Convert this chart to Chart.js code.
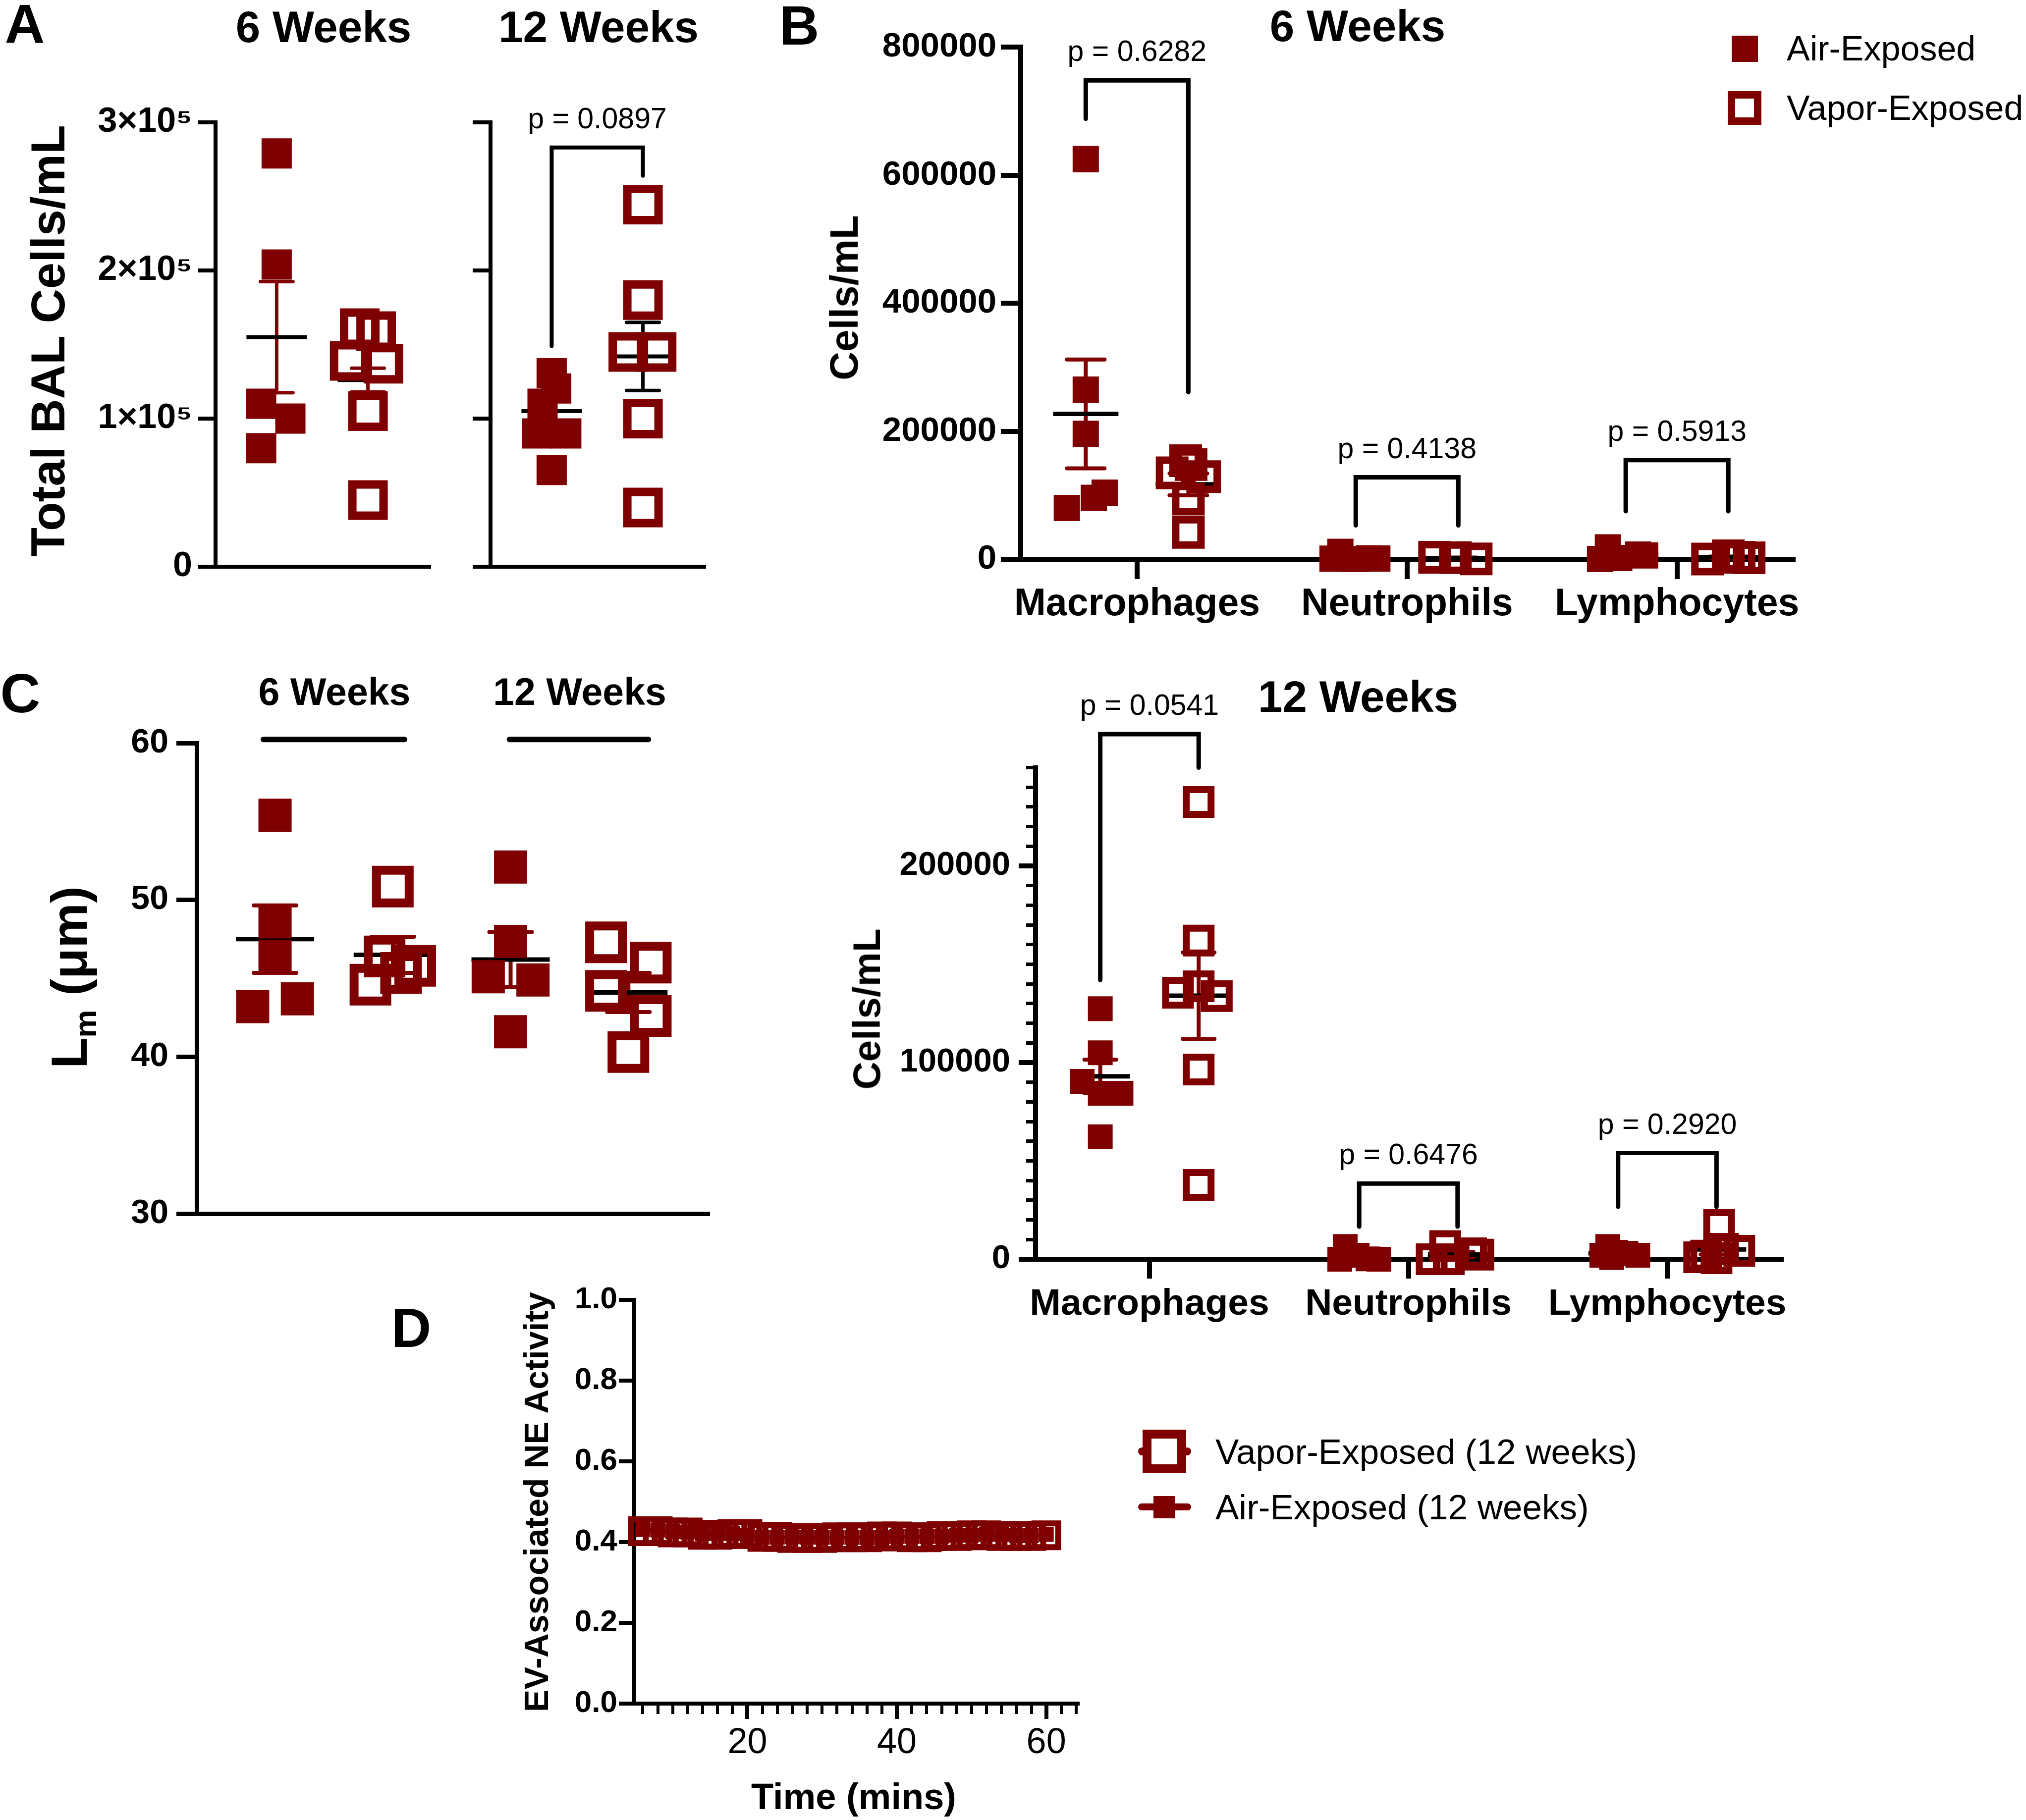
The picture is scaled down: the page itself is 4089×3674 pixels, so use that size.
<!DOCTYPE html>
<html>
<head>
<meta charset="utf-8">
<script src="https://cdn.jsdelivr.net/npm/chart.js@4.4.1/dist/chart.umd.min.js"></script>
<style>
  html, body { margin: 0; padding: 0; background: #fff; }
  #page { position: relative; width: 4089px; height: 3674px; overflow: hidden; background: #fff;
          font-family: 'Liberation Sans', Arial, Helvetica, sans-serif; }
  #page canvas { position: absolute; }
  .t { position: absolute; white-space: nowrap; line-height: 1; color: #000; }
  .t .sub { font-size: 0.62em; vertical-align: -0.3em; line-height: 0; }
  .box { position: absolute; box-sizing: border-box; }
</style>
</head>
<body>
<div id="page">
  <canvas id="a6"  width="750"  height="1050" style="left:150px;top:150px"></canvas>
  <canvas id="a12" width="560"  height="1050" style="left:900px;top:150px"></canvas>
  <canvas id="b6"  width="2040" height="1300" style="left:1640px;top:0px"></canvas>
  <canvas id="c"   width="1300" height="1070" style="left:200px;top:1440px"></canvas>
  <canvas id="b12" width="2000" height="1320" style="left:1700px;top:1380px"></canvas>
  <canvas id="d"   width="1100" height="1000" style="left:1150px;top:2580px"></canvas>
</div>
<script>
var RED = '#7f0000';
Chart.defaults.font.family = "'Liberation Sans', Arial, Helvetica, sans-serif";
Chart.defaults.color = '#000';

// ---------- A: total BAL cells ----------
var aTickValues = [0, 100000, 200000, 300000];
var aTickLabels = ['0', '1×10⁵', '2×10⁵', '3×10⁵'];
var aAir6 = [279000, 204000, 110000, 100000, 80000];
var aAir6Jit = [0, 0, -0.17, 0.15, -0.17];
var aVap6 = [161000, 159000, 139000, 137000, 105000, 45000];
var aVap6Jit = [-0.09, 0.09, -0.2, 0.17, 0, 0];
var aAir12 = [130600, 120300, 110000, 90000, 90000, 65300];
var aAir12Jit = [0, 0.05, -0.1, -0.16, 0.16, 0];
var aVap12 = [244500, 180000, 145000, 145000, 100000, 40000];
var aVap12Jit = [0, 0, -0.16, 0.15, 0, 0];
var aMean6 = [155000, 126000];
var aSem6 = [37500, 8000];
var aMean12 = [105000, 142000];
var aSem12 = [9000, 23000];
var aP12 = 'p = 0.0897';
var aBracket12 = [283000, 149000, 264000];   // top, left end, right end

// ---------- B: cell types ----------
var cellTypes = ['Macrophages', 'Neutrophils', 'Lymphocytes'];
var b6TickValues = [0, 200000, 400000, 600000, 800000];
var b6TickLabels = ['0', '200000', '400000', '600000', '800000'];
var b6AirMac = [625000, 265000, 196000, 104000, 96000, 80000];
var b6AirMacJit = [0, 0, 0, 0.07, 0.03, -0.07];
var b6VapMac = [154000, 148000, 135000, 129000, 94000, 42000];
var b6VapMacJit = [-0.01, 0.01, -0.06, 0.06, 0, 0];
var b6AirNeu = [11600, 1000, 1500, 1200, 300];
var b6AirNeuJit = [-0.057, -0.086, 0.05, 0.08, 0];
var b6VapNeu = [3000, 2500, 500];
var b6VapNeuJit = [-0.088, -0.011, 0.066];
var b6AirLym = [18600, 300, 7300, 6000, 2000];
var b6AirLymJit = [-0.066, -0.095, 0.046, 0.072, -0.024];
var b6VapLym = [5400, 2300, 300, 3000];
var b6VapLymJit = [0, 0.077, -0.077, 0.04];
var b6AirMean = [227000, 3500, 7000];
var b6AirSem = [85000, 2000, 3200];
var b6VapMean = [117000, 2000, 3200];
var b6VapSem = [17000, 800, 1000];
var b6P = ['p = 0.6282', 'p = 0.4138', 'p = 0.5913'];
var b6BracketTop = [748000, 128000, 155000];
var b6BracketLeft = [688000, 53000, 75000];
var b6BracketRight = [261000, 53000, 75000];

var b12TickValues = [0, 100000, 200000];
var b12TickLabels = ['0', '100000', '200000'];
var b12AirMac = [127400, 105000, 90400, 84400, 84400, 62300];
var b12AirMacJit = [0, 0, -0.07, 0, 0.08, 0];
var b12VapMac = [232500, 162000, 138800, 135500, 133800, 96500, 37800];
var b12VapMacJit = [0, 0, 0, -0.08, 0.07, 0, 0];
var b12AirNeu = [6500, 2000, 200, 0, 0];
var b12AirNeuJit = [-0.054, -0.008, 0.034, 0.076, -0.075];
var b12VapNeu = [6700, 3000, 2300, 0, 0];
var b12VapNeuJit = [-0.048, 0.052, 0.08, -0.034, -0.1];
var b12AirLym = [6500, 3500, 3000, 2000, 2000, 800];
var b12AirLymJit = [-0.04, -0.01, 0.03, 0.076, -0.063, -0.025];
var b12VapLym = [17400, 5300, 4300, 1800, 1000, 500];
var b12VapLymJit = [0.01, 0.025, 0.088, -0.04, -0.067, 0];
var b12AirMean = [93000, 1700, 3000];
var b12AirSem = [8500, 1200, 900];
var b12VapMean = [134000, 2400, 5000];
var b12VapSem = [22000, 1300, 2600];
var b12P = ['p = 0.0541', 'p = 0.6476', 'p = 0.2920'];
var b12BracketTop = [267000, 38500, 54000];
var b12BracketLeft = [142000, 16600, 26700];
var b12BracketRight = [250000, 16600, 26700];

// ---------- C: mean linear intercept ----------
var cTickValues = [30, 40, 50, 60];
var cTickLabels = ['30', '40', '50', '60'];
var cAir6 = [55.4, 48.6, 46.4, 43.2, 43.7];
var cAir6Jit = [0, 0, 0, -0.19, 0.19];
var cVap6 = [50.85, 46.4, 45.8, 45.35, 44.6];
var cVap6Jit = [0, -0.07, 0.19, 0.07, -0.19];
var cAir12 = [52.1, 47.35, 45.1, 44.9, 41.6];
var cAir12Jit = [0, 0, -0.19, 0.19, 0];
var cVap12 = [47.3, 46.0, 44.2, 42.6, 40.3];
var cVap12Jit = [-0.19, 0.19, -0.19, 0.19, 0];
var cMean = [47.5, 46.5, 46.2, 44.1];
var cSem = [2.15, 1.15, 1.75, 1.25];
var cSpanFrom = [0.9, 2.99];
var cSpanTo = [2.1, 4.17];
var cSpanLevel = 60.23;

// ---------- D: EV-associated NE activity ----------
var dTime = [6, 8, 10, 12, 14, 16, 18, 20, 22, 24, 26, 28, 30, 32, 34, 36, 38, 40, 42, 44, 46, 48, 50, 52, 54, 56, 58, 60];
var dVapor = [0.427, 0.427, 0.424, 0.424, 0.418, 0.418, 0.420, 0.420, 0.413, 0.413, 0.410, 0.410, 0.410, 0.412,
              0.412, 0.412, 0.414, 0.414, 0.412, 0.412, 0.415, 0.415, 0.417, 0.417, 0.415, 0.415, 0.415, 0.417];
var dAir = [0.431, 0.430, 0.426, 0.425, 0.421, 0.421, 0.421, 0.417, 0.412, 0.412, 0.413, 0.412, 0.412, 0.412,
            0.412, 0.411, 0.411, 0.414, 0.414, 0.414, 0.414, 0.417, 0.417, 0.419, 0.419, 0.416, 0.416, 0.419];
var dYTicks = [0, 0.2, 0.4, 0.6, 0.8, 1.0];
var dYLabels = ['0.0', '0.2', '0.4', '0.6', '0.8', '1.0'];
var dXTicks = [20, 40, 60];
var dXLabels = ['20', '40', '60'];

var GAP = 0.19;   // air / vapor offset from a category centre

// mean + SEM behind points, brackets and p values on top
var statsPlugin = {
  id: 'stats',
  beforeDatasetsDraw: function (chart, args, o) {
    var ctx = chart.ctx, xs = chart.scales.x, ys = chart.scales.y;
    ctx.save();
    (o.groups || []).forEach(function (g) {
      var px = xs.getPixelForValue(g.x);
      var top = ys.getPixelForValue(g.mean + g.sem);
      var bot = ys.getPixelForValue(g.mean - g.sem);
      var mid = ys.getPixelForValue(g.mean);
      ctx.strokeStyle = g.color;
      ctx.lineWidth = o.semWidth;
      ctx.lineCap = 'round';
      ctx.beginPath();
      ctx.moveTo(px, top); ctx.lineTo(px, bot);
      ctx.moveTo(px - o.capHalf, top); ctx.lineTo(px + o.capHalf, top);
      ctx.moveTo(px - o.capHalf, bot); ctx.lineTo(px + o.capHalf, bot);
      ctx.stroke();
      ctx.strokeStyle = '#000';
      ctx.lineWidth = o.meanWidth;
      ctx.lineCap = 'butt';
      ctx.beginPath();
      ctx.moveTo(px - o.meanHalf, mid); ctx.lineTo(px + o.meanHalf, mid);
      ctx.stroke();
    });
    ctx.restore();
  },
  afterDatasetsDraw: function (chart, args, o) {
    var ctx = chart.ctx, xs = chart.scales.x, ys = chart.scales.y;
    ctx.save();
    ctx.strokeStyle = '#000';
    ctx.fillStyle = '#000';
    (o.brackets || []).forEach(function (b) {
      var x1 = xs.getPixelForValue(b.x1), x2 = xs.getPixelForValue(b.x2);
      var yt = ys.getPixelForValue(b.top);
      ctx.lineWidth = o.bracketWidth;
      ctx.lineCap = 'round';
      ctx.lineJoin = 'miter';
      ctx.beginPath();
      ctx.moveTo(x1, ys.getPixelForValue(b.left));
      ctx.lineTo(x1, yt);
      ctx.lineTo(x2, yt);
      ctx.lineTo(x2, ys.getPixelForValue(b.right));
      ctx.stroke();
      ctx.font = o.pFont;
      ctx.textAlign = 'center';
      ctx.textBaseline = 'alphabetic';
      ctx.fillText(b.label, (x1 + x2) / 2, yt - o.pGap);
    });
    (o.spans || []).forEach(function (s) {
      var y = ys.getPixelForValue(s.y);
      ctx.lineWidth = o.spanWidth;
      ctx.lineCap = 'round';
      ctx.beginPath();
      ctx.moveTo(xs.getPixelForValue(s.from), y);
      ctx.lineTo(xs.getPixelForValue(s.to), y);
      ctx.stroke();
    });
    ctx.restore();
  }
};

function pts(center, values, jit) {
  return values.map(function (v, i) { return { x: center + jit[i], y: v }; });
}

function catPts(lists, jits, side) {
  var out = [];
  lists.forEach(function (vals, c) { out = out.concat(pts(c + 1 + side * GAP, vals, jits[c])); });
  return out;
}

function airSet(label, data, side) {
  return { label: label, data: data, clip: false, pointStyle: 'rect',
    pointRadius: side / Math.SQRT2, pointHoverRadius: side / Math.SQRT2,
    pointBackgroundColor: RED, pointBorderColor: RED, pointBorderWidth: 0 };
}

function vapSet(label, data, outer, bw) {
  var r = (outer - bw) / Math.SQRT2;
  return { label: label, data: data, clip: false, pointStyle: 'rect',
    pointRadius: r, pointHoverRadius: r,
    pointBackgroundColor: 'rgba(0,0,0,0)', pointBorderColor: RED, pointBorderWidth: bw };
}

function yScale(o) {
  return {
    type: 'linear', position: 'left', min: o.min, max: o.max, weight: o.weight || 0,
    afterBuildTicks: function (s) { s.ticks = o.ticks.map(function (v) { return { value: v }; }); },
    afterFit: function (s) { s.width = o.width; },
    ticks: { display: !!o.labels, autoSkip: false, padding: o.padding || 0, font: o.font, color: '#000',
      callback: function (v, i) { return o.labels ? o.labels[i] : ''; } },
    grid: { display: true, drawOnChartArea: false, drawTicks: true, tickLength: o.tickLength,
      lineWidth: o.tickWidth || o.lw, color: '#000' },
    border: { display: o.border !== false, width: o.lw, color: '#000' }
  };
}

function xScale(o) {
  return {
    type: 'linear', position: 'bottom', min: o.min, max: o.max, weight: o.weight || 0,
    afterBuildTicks: function (s) { s.ticks = o.ticks.map(function (v) { return { value: v }; }); },
    afterFit: function (s) { s.height = o.height; },
    ticks: { display: !!o.labels, autoSkip: false, maxRotation: 0, padding: o.padding || 0, font: o.font, color: '#000',
      callback: function (v, i) { return o.labels ? o.labels[i] : ''; } },
    grid: { display: !!o.tickLength, drawOnChartArea: false, drawTicks: true, tickLength: o.tickLength || 0,
      lineWidth: o.tickWidth || o.lw, color: '#000' },
    border: { display: o.border !== false, width: o.lw, color: '#000' }
  };
}

function chartOpts(padTop, padRight, scales, stats) {
  return {
    responsive: false, animation: false, events: [], devicePixelRatio: 1,
    layout: { autoPadding: false, padding: { top: padTop, right: padRight, bottom: 0, left: 0 } },
    scales: scales,
    plugins: { legend: { display: false }, tooltip: { enabled: false }, stats: stats }
  };
}

function pairGroups(means, sems, colors) {
  return means.map(function (m, i) { return { x: i + 1, mean: m, sem: sems[i], color: colors[i] }; });
}

function catGroups(airMean, airSem, vapMean, vapSem) {
  var g = [];
  airMean.forEach(function (m, i) {
    g.push({ x: i + 1 - GAP, mean: m, sem: airSem[i], color: RED });
    g.push({ x: i + 1 + GAP, mean: vapMean[i], sem: vapSem[i], color: RED });
  });
  return g;
}

function catBrackets(top, left, right, labels) {
  return top.map(function (t, i) {
    return { x1: i + 1 - GAP, x2: i + 1 + GAP, top: t, left: left[i], right: right[i], label: labels[i] };
  });
}

var P_FONT = "59px 'Liberation Sans', Arial, sans-serif";

// ---- A, 6 weeks ----
new Chart(document.getElementById('a6'), {
  type: 'scatter',
  data: { datasets: [
    airSet('Air-Exposed', pts(1, aAir6, aAir6Jit), 61),
    vapSet('Vapor-Exposed', pts(2, aVap6, aVap6Jit), 80, 17)
  ] },
  options: chartOpts(97, 34, {
    x: xScale({ min: 0.33, max: 2.67, ticks: [1, 2], height: 56, lw: 8 }),
    y: yScale({ min: 0, max: 300000, ticks: aTickValues, labels: aTickLabels, width: 285,
      tickLength: 35, padding: 12, lw: 8, font: { size: 70, weight: 'bold' } })
  }, {
    groups: pairGroups(aMean6, aSem6, [RED, RED]),
    meanHalf: 61, capHalf: 33, meanWidth: 8, semWidth: 7
  }),
  plugins: [statsPlugin]
});

// ---- A, 12 weeks ----
new Chart(document.getElementById('a12'), {
  type: 'scatter',
  data: { datasets: [
    airSet('Air-Exposed', pts(1, aAir12, aAir12Jit), 61),
    vapSet('Vapor-Exposed', pts(2, aVap12, aVap12Jit), 80, 17)
  ] },
  options: chartOpts(97, 39, {
    x: xScale({ min: 0.33, max: 2.67, ticks: [1, 2], height: 56, lw: 8 }),
    y: yScale({ min: 0, max: 300000, ticks: aTickValues, width: 90, tickLength: 36, lw: 8 })
  }, {
    groups: pairGroups(aMean12, aSem12, [RED, '#000']),
    meanHalf: 61, capHalf: 33, meanWidth: 8, semWidth: 7,
    brackets: [{ x1: 1, x2: 2, top: aBracket12[0], left: aBracket12[1], right: aBracket12[2], label: aP12 }],
    bracketWidth: 8, pFont: P_FONT, pGap: 39
  }),
  plugins: [statsPlugin]
});

// ---- B, 6 weeks ----
new Chart(document.getElementById('b6'), {
  type: 'scatter',
  data: { datasets: [
    airSet('Air-Exposed', catPts([b6AirMac, b6AirNeu, b6AirLym], [b6AirMacJit, b6AirNeuJit, b6AirLymJit], -1), 53),
    vapSet('Vapor-Exposed', catPts([b6VapMac, b6VapNeu, b6VapLym], [b6VapMacJit, b6VapNeuJit, b6VapLymJit], 1), 66, 15)
  ] },
  options: chartOpts(95, 61, {
    x: xScale({ min: 0.569, max: 3.43, ticks: [1, 2, 3], labels: cellTypes, height: 171,
      tickLength: 40, padding: 6, lw: 10, font: { size: 77, weight: 'bold' } }),
    y: yScale({ min: 0, max: 800000, ticks: b6TickValues, labels: b6TickLabels, width: 420,
      tickLength: 40, padding: 9, lw: 10, font: { size: 69, weight: 'bold' } })
  }, {
    groups: catGroups(b6AirMean, b6AirSem, b6VapMean, b6VapSem),
    meanHalf: 66, capHalf: 38, meanWidth: 9, semWidth: 8,
    brackets: catBrackets(b6BracketTop, b6BracketLeft, b6BracketRight, b6P),
    bracketWidth: 9, pFont: P_FONT, pGap: 39
  }),
  plugins: [statsPlugin]
});

// ---- C ----
new Chart(document.getElementById('c'), {
  type: 'scatter',
  data: { datasets: [
    airSet('Air-Exposed', pts(1, cAir6, cAir6Jit).concat(pts(3, cAir12, cAir12Jit)), 67),
    vapSet('Vapor-Exposed', pts(2, cVap6, cVap6Jit).concat(pts(4, cVap12, cVap12Jit)), 84, 18)
  ] },
  options: chartOpts(60, 72, {
    x: xScale({ min: 0.335, max: 4.672, ticks: [1, 2, 3, 4], height: 60, lw: 9 }),
    y: yScale({ min: 30, max: 60, ticks: cTickValues, labels: cTickLabels, width: 197,
      tickLength: 41, padding: 16, lw: 9, font: { size: 68, weight: 'bold' } })
  }, {
    groups: pairGroups(cMean, cSem, [RED, RED, RED, RED]),
    meanHalf: 79, capHalf: 43, meanWidth: 9, semWidth: 8,
    spans: cSpanFrom.map(function (f, i) { return { from: f, to: cSpanTo[i], y: cSpanLevel }; }),
    spanWidth: 11
  }),
  plugins: [statsPlugin]
});

// ---- B, 12 weeks ----
var b12Minor = [];
for (var v = 0; v <= 250000; v += 10000) b12Minor.push(v);
new Chart(document.getElementById('b12'), {
  type: 'scatter',
  data: { datasets: [
    airSet('Air-Exposed', catPts([b12AirMac, b12AirNeu, b12AirLym], [b12AirMacJit, b12AirNeuJit, b12AirLymJit], -1), 50),
    vapSet('Vapor-Exposed', catPts([b12VapMac, b12VapNeu, b12VapLym], [b12VapMacJit, b12VapNeuJit, b12VapLymJit], 1), 64, 14)
  ] },
  options: chartOpts(169.5, 105, {
    x: xScale({ min: 0.56, max: 3.44, ticks: [1, 2, 3], labels: cellTypes, height: 158,
      tickLength: 39, padding: 7, lw: 10, font: { size: 75, weight: 'bold' } }),
    y: yScale({ min: 0, max: 250000, ticks: b12TickValues, labels: b12TickLabels, width: 390, weight: 1,
      tickLength: 34, padding: 17, lw: 10, font: { size: 67, weight: 'bold' } }),
    y2: yScale({ min: 0, max: 250000, ticks: b12Minor, width: 0, weight: 0,
      tickLength: 19, lw: 10, tickWidth: 7, border: false })
  }, {
    groups: catGroups(b12AirMean, b12AirSem, b12VapMean, b12VapSem),
    meanHalf: 60, capHalf: 32, meanWidth: 9, semWidth: 8,
    brackets: catBrackets(b12BracketTop, b12BracketLeft, b12BracketRight, b12P),
    bracketWidth: 9, pFont: P_FONT, pGap: 39
  }),
  plugins: [statsPlugin]
});

// ---- D ----
var dMinor = [];
for (var t = 6; t <= 64; t += 2) dMinor.push(t);
function series(ys) { return dTime.map(function (tm, i) { return { x: tm, y: ys[i] }; }); }
var dAirSet = airSet('Air-Exposed (12 weeks)', series(dAir), 30);
dAirSet.showLine = true; dAirSet.borderColor = RED; dAirSet.borderWidth = 6;
var dVapSet = vapSet('Vapor-Exposed (12 weeks)', series(dVapor), 60, 12);
dVapSet.showLine = true; dVapSet.borderColor = RED; dVapSet.borderWidth = 6;
new Chart(document.getElementById('d'), {
  type: 'scatter',
  data: { datasets: [dAirSet, dVapSet] },
  options: chartOpts(44, 75, {
    x: xScale({ min: 4.85, max: 64.2, ticks: dXTicks, labels: dXLabels, height: 141, weight: 1,
      tickLength: 31, padding: 6, lw: 8, font: { size: 72, weight: 'normal' } }),
    x2: xScale({ min: 4.85, max: 64.2, ticks: dMinor, height: 0, weight: 0,
      tickLength: 21, lw: 8, tickWidth: 6, border: false }),
    y: yScale({ min: 0, max: 1, ticks: dYTicks, labels: dYLabels, width: 130,
      tickLength: 31, padding: 3, lw: 8, font: { size: 62, weight: 'bold' } })
  }, {}),
  plugins: [statsPlugin]
});

// ---------- page text & legends ----------
var page = document.getElementById('page');
function addText(html, x, y, size, weight, how) {
  var d = document.createElement('div');
  d.className = 't';
  d.innerHTML = html;
  d.style.left = x + 'px';
  d.style.top = y + 'px';
  d.style.fontSize = size + 'px';
  d.style.fontWeight = weight;
  d.style.transform = how === 'v' ? 'translate(-50%,-50%) rotate(-90deg)'
    : how === 'l' ? 'translate(0,-50%)' : 'translate(-50%,-50%)';
  page.appendChild(d);
}
function addBox(cx, cy, w, h, bg, bw, radius) {
  var d = document.createElement('div');
  d.className = 'box';
  d.style.left = (cx - w / 2) + 'px';
  d.style.top = (cy - h / 2) + 'px';
  d.style.width = w + 'px';
  d.style.height = h + 'px';
  d.style.background = bg;
  if (bw) d.style.border = bw + 'px solid ' + RED;
  if (radius) d.style.borderRadius = radius + 'px';
  page.appendChild(d);
}

// panel letters
addText('A', 50, 49, 112, 'bold');
addText('B', 1613, 52, 112, 'bold');
addText('C', 41, 1400, 112, 'bold');
addText('D', 830, 2681, 112, 'bold');

// group headings
addText('6 Weeks', 653, 54, 89, 'bold');
addText('12 Weeks', 1208, 54, 89, 'bold');
addText('6 Weeks', 2740, 52, 89, 'bold');
addText('12 Weeks', 2741, 1406, 89, 'bold');
addText('6 Weeks', 675, 1396, 77, 'bold');
addText('12 Weeks', 1170, 1396, 77, 'bold');

// axis titles
addText('Total BAL Cells/mL', 97, 688, 96, 'bold', 'v');
addText('Cells/mL', 1704, 601, 80, 'bold', 'v');
addText('Cells/mL', 1749, 2037, 78, 'bold', 'v');
addText('L<span class="sub">m</span> (μm)', 140, 1973, 102, 'bold', 'v');
addText('EV-Associated NE Activity', 1082, 3032, 68, 'bold', 'v');
addText('Time (mins)', 1723, 3627, 74, 'bold');

// legend, panel B
addBox(3521, 98, 53, 53, RED, 0);
addText('Air-Exposed', 3606, 98, 70, 'normal', 'l');
addBox(3521, 218, 68, 68, 'transparent', 15);
addText('Vapor-Exposed', 3606, 218, 70, 'normal', 'l');

// legend, panel D
addBox(2350, 2930, 107, 16, RED, 0, 8);
addBox(2350, 2930, 88, 88, '#fff', 18);
addText('Vapor-Exposed (12 weeks)', 2453, 2930, 71, 'normal', 'l');
addBox(2350, 3042, 107, 14, RED, 0, 7);
addBox(2350, 3042, 44, 45, RED, 0);
addText('Air-Exposed (12 weeks)', 2453, 3042, 71, 'normal', 'l');
</script>
</body>
</html>
